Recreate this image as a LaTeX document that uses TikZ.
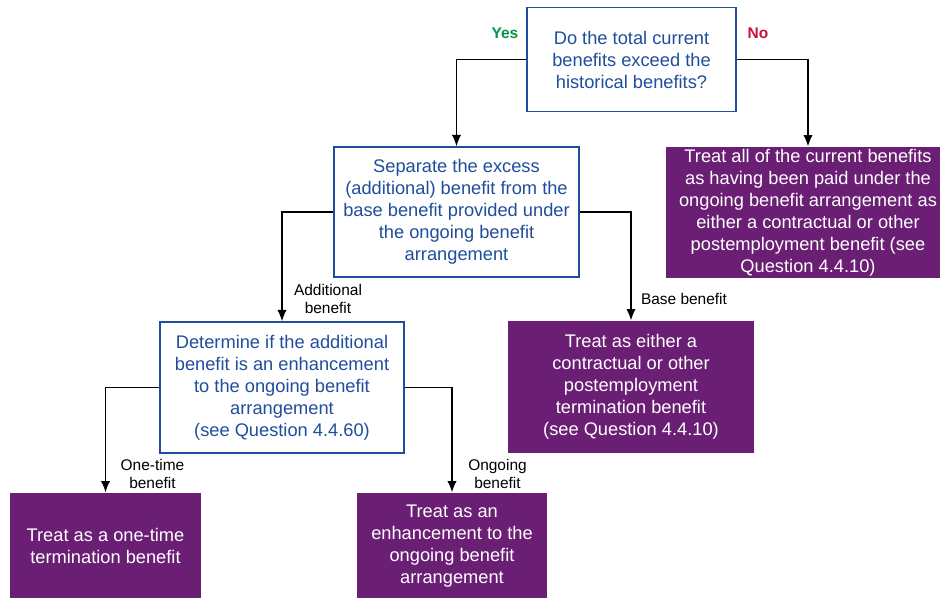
\documentclass[tikz,border=0pt]{standalone}
\usepackage{fontspec}
\setmainfont{Liberation Sans}
\usetikzlibrary{arrows.meta}
\definecolor{qblue}{RGB}{31,78,158}
\definecolor{kpurple}{RGB}{106,30,116}
\definecolor{yesgreen}{RGB}{0,150,70}
\definecolor{nored}{RGB}{200,16,60}

\tikzset{
  question/.style={draw=qblue,line width=1.1pt,fill=white,text=qblue,align=center,inner sep=0pt,font=\fontsize{13.7}{16.5}\selectfont},
  outcome/.style={fill=kpurple,text=white,align=center,inner sep=0pt,font=\fontsize{13.7}{16.5}\selectfont},
  lbl/.style={align=center,inner sep=0pt,font=\fontsize{11.6}{13.5}\selectfont},
  ans/.style={inner sep=0pt,font=\bfseries\fontsize{11.6}{13.5}\selectfont}
}

\begin{document}
\begin{tikzpicture}[x=0.75pt,y=-0.75pt,>={Latex[length=8.5pt,width=7pt]},line width=1pt]
		\clip (0,0) rectangle (940,597);
		\node[question,minimum width=156.75pt,minimum height=78pt]   (Q) at (631.5,59.5) {Do the total current\\benefits exceed the\\historical benefits?};
		\node[question,minimum width=183.75pt,minimum height=97.5pt] (S) at (456.5,212)  {Separate the excess\\(additional) benefit from the\\base benefit provided under\\the ongoing benefit\\arrangement};
		\node[outcome,minimum width=213pt,minimum height=98.25pt]    (N) at (808,212.5)  {Treat all of the current benefits\\as having been paid under the\\ongoing benefit arrangement as\\either a contractual or other\\postemployment benefit (see\\Question 4.4.10)};
		\node[question,minimum width=183pt,minimum height=98.25pt]   (D) at (282,387.5)  {Determine if the additional\\benefit is an enhancement\\to the ongoing benefit\\arrangement\\(see Question 4.4.60)};
		\node[outcome,minimum width=184.5pt,minimum height=99pt]     (B) at (631,387)    {Treat as either a\\contractual or other\\postemployment\\termination benefit\\(see Question 4.4.10)};
		\node[outcome,minimum width=143.25pt,minimum height=79.5pt]  (O) at (105.5,546)  {Treat as a one-time\\termination benefit};
		\node[outcome,minimum width=142.5pt,minimum height=79.5pt]   (G) at (452,546)    {Treat as an\\enhancement to the\\ongoing benefit\\arrangement};
		
		% answers and branch labels
		\node[ans,text=yesgreen] (yes)   at (505,33)      {Yes};
		\node[ans,text=nored]    (no)    at (758,33)      {No};
		\node[lbl]               (ladd)  at (328,299)     {Additional\\benefit};
		\node[lbl]               (lbase) at (684,299)     {Base benefit};
		\node[lbl]               (lone)  at (152.5,473.5) {One-time\\benefit};
		\node[lbl]               (lgo)   at (497.5,473.5) {Ongoing\\benefit};
		
		\draw[->] (Q.west) -| (S.north);
		\draw[->] (Q.east) -| (N.north);
		\draw[->] (S.west) -| (D.north);
		\draw[->] (S.east) -| (B.north);
		\draw[->] (D.west) -| (O.north);
		\draw[->] (D.east) -| (G.north);
		\end{tikzpicture}
\end{document}
